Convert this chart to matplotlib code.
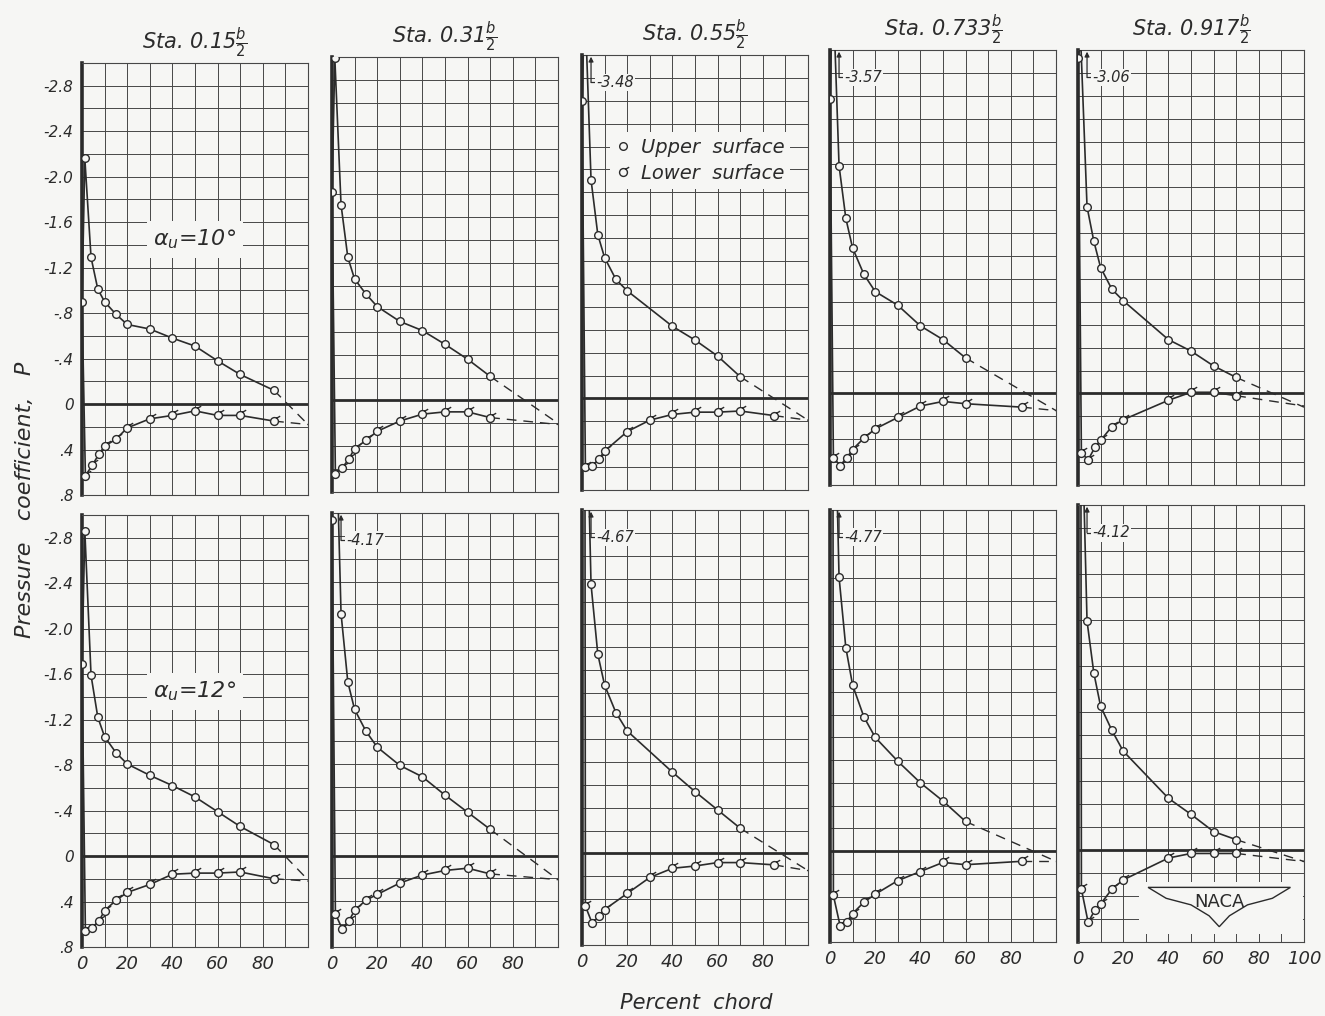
import numpy as np
import matplotlib
matplotlib.use("Agg")
import matplotlib.pyplot as plt
from matplotlib.path import Path
from matplotlib.lines import Line2D
from matplotlib.patches import Rectangle, Polygon

# chord stations (percent chord)
x_upper = [0, 1.25, 4, 7, 10, 15, 20, 30, 40, 50, 60, 70, 85]
x_lower = [1.5, 4.5, 7.5, 10, 15, 20, 30, 40, 50, 60, 70, 85]
nan = np.nan

stations = ["0.15", "0.31", "0.55", "0.733", "0.917"]
alphas = ["10", "12"]

# upper surface pressure coefficient, row 1 (alpha 10) then row 2 (alpha 12)
up_10 = [
    [-0.90, -2.16, -1.29, -1.01, -0.90, -0.79, -0.70, -0.66, -0.58, -0.51, -0.38, -0.26, -0.12],
    [-1.82, -2.99, -1.71, -1.25, -1.06, -0.93, -0.82, -0.69, -0.61, -0.49, -0.36, -0.21, nan],
    [-2.60, -3.48, -1.91, -1.43, -1.23, -1.04, -0.94, nan, -0.63, -0.51, -0.37, -0.19, nan],
    [-2.57, -3.57, -1.99, -1.53, -1.27, -1.04, -0.89, -0.77, -0.59, -0.47, -0.31, nan, nan],
    [-2.93, -3.06, -1.63, -1.33, -1.10, -0.91, -0.81, nan, -0.47, -0.37, -0.24, -0.14, nan],
]
up_12 = [
    [-1.69, -2.86, -1.59, -1.22, -1.05, -0.91, -0.81, -0.71, -0.62, -0.52, -0.39, -0.26, -0.10],
    [-2.94, -4.17, -2.12, -1.52, -1.28, -1.09, -0.95, -0.79, -0.69, -0.53, -0.38, -0.23, nan],
    [nan, -4.67, -2.35, -1.74, -1.47, -1.23, -1.07, nan, -0.71, -0.54, -0.38, -0.22, nan],
    [nan, -4.77, -2.41, -1.79, -1.46, -1.18, -1.00, -0.79, -0.60, -0.44, -0.26, nan, nan],
    [nan, -4.12, -1.99, -1.54, -1.25, -1.04, -0.86, nan, -0.45, -0.31, -0.16, -0.09, nan],
]
# lower surface pressure coefficient
lo_10 = [
    [0.63, 0.54, 0.44, 0.37, 0.31, 0.21, 0.13, 0.10, 0.06, 0.10, 0.10, 0.15],
    [0.64, 0.59, 0.51, 0.42, 0.35, 0.27, 0.18, 0.12, 0.10, 0.10, 0.15, nan],
    [0.60, 0.59, 0.53, 0.46, nan, 0.29, 0.19, 0.14, 0.12, 0.12, 0.11, 0.15],
    [0.56, 0.63, 0.56, 0.49, 0.39, 0.31, 0.21, 0.11, 0.07, 0.09, nan, 0.12],
    [0.52, 0.58, 0.47, 0.41, 0.29, 0.23, nan, 0.06, -0.01, -0.01, 0.02, nan],
]
lo_12 = [
    [0.66, 0.63, 0.57, 0.48, 0.39, 0.32, 0.25, 0.16, 0.15, 0.15, 0.14, 0.20],
    [0.51, 0.64, 0.57, 0.48, 0.39, 0.34, 0.24, 0.17, 0.13, 0.11, 0.16, nan],
    [0.46, 0.61, 0.55, 0.49, nan, 0.35, 0.21, 0.13, 0.11, 0.08, 0.08, 0.10],
    [0.39, 0.66, 0.62, 0.55, 0.45, 0.38, 0.26, 0.18, 0.10, 0.12, nan, 0.09],
    [0.34, 0.63, 0.52, 0.47, 0.34, 0.26, nan, 0.07, 0.03, 0.03, 0.03, nan],
]
# faired (dashed) values at the trailing edge, x = 100
te_up_10 = [0.18, 0.20, 0.19, 0.15, 0.12]
te_lo_10 = [0.18, 0.21, 0.19, 0.15, 0.11]
te_up_12 = [0.21, 0.21, 0.15, 0.09, 0.10]
te_lo_12 = [0.22, 0.21, 0.15, 0.09, 0.10]

bg = "#f6f6f4"
ink = "#2b2b2b"
gridc = "#474747"
W, H = 1325, 1016

# lower surface symbol: circle with a flag
flag = Path.make_compound_path(Path.unit_circle(),
                               Path([(0.55, 0.85), (1.45, 1.35)], [Path.MOVETO, Path.LINETO]))

fig = plt.figure(figsize=(W / 100, H / 100), dpi=100, facecolor=bg)
plt.rcParams["font.family"] = "DejaVu Sans"
plt.rcParams["mathtext.fontset"] = "dejavusans"

lefts = [82, 332, 582, 830, 1078]
tops = [[63, 57, 55, 50, 50], [515, 513, 510, 510, 505]]
bots = [[495, 492, 490, 485, 485], [947, 947, 945, 942, 942]]
pw = 226

for r in range(2):
    ups = up_10 if r == 0 else up_12
    los = lo_10 if r == 0 else lo_12
    teu = te_up_10 if r == 0 else te_up_12
    tel = te_lo_10 if r == 0 else te_lo_12
    for c in range(5):
        t, b = tops[r][c], bots[r][c]
        ax = fig.add_axes([lefts[c] / W, 1 - b / H, pw / W, (b - t) / H])
        ax.set_facecolor(bg)
        ax.set_xlim(0, 100)
        ax.set_ylim(0.8, -3.0)
        ax.set_xticks(np.arange(0, 101, 10))
        ax.set_yticks(np.round(np.arange(-3.0, 0.81, 0.2), 1))
        ax.grid(True, color=gridc, lw=0.7)
        ax.set_axisbelow(True)
        ax.tick_params(length=0, pad=6)
        for s in ["top", "right", "bottom"]:
            ax.spines[s].set_linewidth(0.8)
            ax.spines[s].set_color(gridc)
        ax.spines["left"].set_linewidth(2.6)
        ax.spines["left"].set_color(ink)
        ax.axhline(0, color=ink, lw=2.0, zorder=2)

        # tick labels
        if c == 0:
            ylab = []
            for v in ax.get_yticks():
                if round(v * 10) % 4 == 0 and v > -2.95:
                    s = "%.1f" % v
                    if abs(v) < 1 and v != 0:
                        s = s.replace("0.", ".")
                    if v == 0:
                        s = "0"
                    ylab.append(s)
                else:
                    ylab.append("")
            ax.set_yticklabels(ylab, fontsize=11, style="italic", color=ink)
        else:
            ax.set_yticklabels([])
        if r == 1:
            xl = []
            for v in range(0, 101, 10):
                if v % 20 == 0 and (v < 100 or c == 4):
                    xl.append(str(v))
                else:
                    xl.append("")
            ax.set_xticklabels(xl, fontsize=13, style="italic", color=ink)
        else:
            ax.set_xticklabels([])

        xu = np.array(x_upper, float)
        pu = np.array(ups[c], float)
        mu = ~np.isnan(pu)
        xl_ = np.array(x_lower, float)
        pl = np.array(los[c], float)
        ml = ~np.isnan(pl)

        # upper surface
        ax.plot(xu[mu], pu[mu], "-", color=ink, lw=1.2, zorder=3)
        ax.plot([xu[mu][-1], 100], [pu[mu][-1], teu[c]], "--", color=ink, lw=1.0,
                dashes=(7, 5), zorder=3)
        ax.plot(xu[mu], pu[mu], "o", ms=5.5, mfc=bg, mec=ink, mew=1.0, zorder=4)

        # lower surface, starting from the leading edge point
        lx = np.concatenate([[xu[mu][0]], xl_[ml]])
        lp = np.concatenate([[pu[mu][0]], pl[ml]])
        ax.plot(lx, lp, "-", color=ink, lw=1.2, zorder=3)
        ax.plot([xl_[ml][-1], 100], [pl[ml][-1], tel[c]], "--", color=ink, lw=1.0,
                dashes=(7, 5), zorder=3)
        ax.plot(xl_[ml], pl[ml], linestyle="none", marker=flag, ms=8.2, mfc=bg,
                mec=ink, mew=1.0, zorder=4)

        # off-scale peak
        peak = np.nanmin(pu)
        if peak < -3.0:
            ax.annotate("", xy=(4, -2.985), xytext=(4, -2.76),
                        arrowprops=dict(arrowstyle="-|>", lw=0.9, color=ink,
                                        mutation_scale=7, shrinkA=0, shrinkB=0))
            ax.plot([4, 6.3], [-2.76, -2.76], color=ink, lw=0.9)
            ax.text(6.3, -2.76, "%.2f" % peak, fontsize=10.5, style="italic",
                    color=ink, va="center", ha="left",
                    bbox=dict(boxstyle="square,pad=0.1", fc=bg, ec="none"))

        if r == 0:
            ax.set_title(r"Sta. %s$\frac{b}{2}$" % stations[c], fontsize=15,
                         style="italic", color=ink, pad=10)

        if c == 0:
            ax.text(50, -1.45, r"$\alpha_u$=%s°" % alphas[r], fontsize=16,
                    style="italic", color=ink, ha="center", va="center", zorder=5,
                    bbox=dict(boxstyle="square,pad=0.3", fc=bg, ec="none"))

        if r == 0 and c == 2:
            h_up = Line2D([], [], ls="none", marker="o", ms=5.5, mfc=bg, mec=ink)
            h_lo = Line2D([], [], ls="none", marker=flag, ms=8.2, mfc=bg, mec=ink)
            leg = ax.legend([h_up, h_lo], ["Upper  surface", "Lower  surface"],
                            loc="upper left", bbox_to_anchor=(0.08, 0.845),
                            frameon=True, fancybox=False, handlelength=0.8,
                            handletextpad=0.5, borderpad=0.3, labelspacing=0.35,
                            prop=dict(size=14, style="italic"))
            leg.get_frame().set_facecolor(bg)
            leg.get_frame().set_edgecolor("none")
            leg.get_frame().set_alpha(1)
            for tx in leg.get_texts():
                tx.set_color(ink)

        if r == 1 and c == 4:
            ax.add_patch(Rectangle((0.27, 0.018), 0.725, 0.12, transform=ax.transAxes,
                                   fc=bg, ec="none", zorder=5))
            wing = [(0.31, 0.125), (0.94, 0.125), (0.86, 0.10), (0.75, 0.085),
                    (0.67, 0.06), (0.625, 0.035), (0.58, 0.06), (0.50, 0.085),
                    (0.39, 0.10)]
            ax.add_patch(Polygon(wing, closed=True, transform=ax.transAxes,
                                 fc=bg, ec=ink, lw=1.0, zorder=6))
            ax.text(0.625, 0.092, "NACA", transform=ax.transAxes, fontsize=13,
                    ha="center", va="center", color=ink, zorder=7)

fig.text(25 / W, 1 - 500 / H, "Pressure   coefficient,   P", rotation=90, fontsize=16,
         style="italic", color=ink, ha="center", va="center")
fig.text(696 / W, 1 - 1003 / H, "Percent  chord", fontsize=15, style="italic",
         color=ink, ha="center", va="center")

fig.savefig("out.png", dpi=100, facecolor=bg)
